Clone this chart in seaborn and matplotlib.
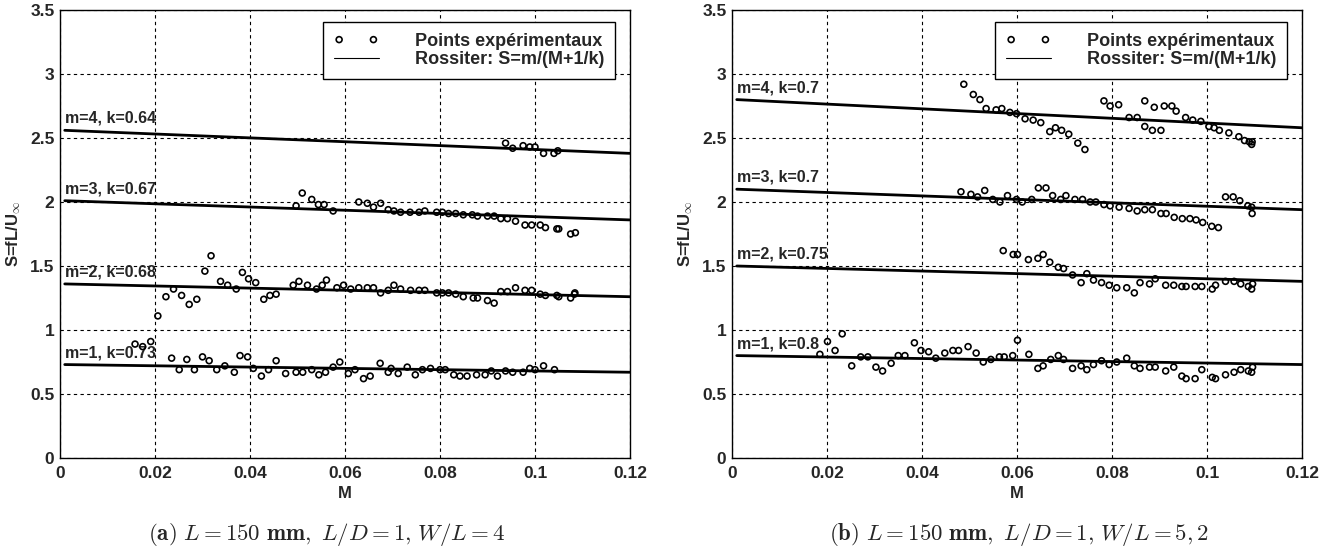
import matplotlib.pyplot as plt
import seaborn as sns

# ---- (a) L=150 mm, L/D=1, W/L=4 : points expérimentaux
a_m1_M = [0.0158, 0.0174, 0.0191, 0.0235, 0.0251, 0.0267, 0.0283, 0.0300, 0.0314, 0.0330,
          0.0347, 0.0367, 0.0379, 0.0395, 0.0407, 0.0424, 0.0439, 0.0455, 0.0475, 0.0497,
          0.0511, 0.0530, 0.0545, 0.0559, 0.0575, 0.0589, 0.0607, 0.0621, 0.0639, 0.0653,
          0.0674, 0.0691, 0.0697, 0.0712, 0.0731, 0.0748, 0.0763, 0.0780, 0.0800, 0.0811,
          0.0829, 0.0842, 0.0857, 0.0877, 0.0895, 0.0908, 0.0921, 0.0938, 0.0953, 0.0975,
          0.0989, 0.1000, 0.1018, 0.1041]
a_m1_S = [0.89, 0.87, 0.91, 0.78, 0.69, 0.77, 0.69, 0.79, 0.76, 0.69,
          0.72, 0.67, 0.80, 0.79, 0.70, 0.64, 0.69, 0.76, 0.66, 0.67,
          0.67, 0.69, 0.65, 0.67, 0.71, 0.75, 0.66, 0.69, 0.62, 0.64,
          0.74, 0.67, 0.70, 0.66, 0.71, 0.65, 0.69, 0.70, 0.69, 0.69,
          0.65, 0.64, 0.64, 0.65, 0.65, 0.68, 0.64, 0.68, 0.67, 0.67,
          0.70, 0.69, 0.72, 0.69]

a_m2_M = [0.0206, 0.0223, 0.0239, 0.0256, 0.0272, 0.0288, 0.0305, 0.0318, 0.0338, 0.0353,
          0.0371, 0.0384, 0.0397, 0.0412, 0.0429, 0.0442, 0.0455, 0.0491, 0.0503, 0.0521,
          0.0540, 0.0552, 0.0561, 0.0583, 0.0597, 0.0612, 0.0629, 0.0647, 0.0660, 0.0675,
          0.0691, 0.0703, 0.0717, 0.0738, 0.0756, 0.0768, 0.0793, 0.0805, 0.0818, 0.0833,
          0.0849, 0.0870, 0.0879, 0.0900, 0.0914, 0.0928, 0.0942, 0.0959, 0.0979, 0.0993,
          0.1011, 0.1022, 0.1046, 0.1050, 0.1075, 0.1083, 0.1084]
a_m2_S = [1.11, 1.26, 1.32, 1.27, 1.20, 1.24, 1.46, 1.58, 1.38, 1.35,
          1.32, 1.45, 1.40, 1.37, 1.24, 1.27, 1.28, 1.35, 1.38, 1.35,
          1.32, 1.35, 1.39, 1.33, 1.35, 1.32, 1.33, 1.33, 1.33, 1.29,
          1.31, 1.35, 1.32, 1.31, 1.31, 1.31, 1.29, 1.29, 1.29, 1.28,
          1.26, 1.25, 1.25, 1.23, 1.21, 1.30, 1.30, 1.33, 1.31, 1.31,
          1.28, 1.27, 1.27, 1.26, 1.25, 1.28, 1.29]

a_m3_M = [0.0497, 0.0510, 0.0530, 0.0544, 0.0556, 0.0575, 0.0629, 0.0647, 0.0660, 0.0675,
          0.0691, 0.0703, 0.0717, 0.0737, 0.0756, 0.0768, 0.0793, 0.0805, 0.0818, 0.0833,
          0.0849, 0.0868, 0.0879, 0.0900, 0.0914, 0.0928, 0.0942, 0.0959, 0.0979, 0.0993,
          0.1011, 0.1022, 0.1046, 0.1050, 0.1075, 0.1085]
a_m3_S = [1.97, 2.07, 2.02, 1.98, 1.98, 1.93, 2.00, 1.99, 1.96, 1.99,
          1.94, 1.93, 1.92, 1.92, 1.92, 1.93, 1.92, 1.92, 1.91, 1.91,
          1.90, 1.90, 1.89, 1.89, 1.89, 1.87, 1.87, 1.85, 1.82, 1.82,
          1.82, 1.80, 1.79, 1.79, 1.75, 1.76]

a_m4_M = [0.0938, 0.0953, 0.0975, 0.0989, 0.1000, 0.1018, 0.1040, 0.1048]
a_m4_S = [2.46, 2.42, 2.44, 2.43, 2.43, 2.38, 2.38, 2.40]

# ---- (b) L=150 mm, L/D=1, W/L=5,2 : points expérimentaux
b_m1_M = [0.0185, 0.0201, 0.0217, 0.0232, 0.0252, 0.0271, 0.0286, 0.0303, 0.0317, 0.0335,
          0.0350, 0.0364, 0.0384, 0.0398, 0.0414, 0.0429, 0.0448, 0.0465, 0.0477, 0.0497,
          0.0514, 0.0529, 0.0545, 0.0563, 0.0573, 0.0591, 0.0601, 0.0625, 0.0644, 0.0655,
          0.0671, 0.0687, 0.0698, 0.0717, 0.0735, 0.0747, 0.0761, 0.0778, 0.0794, 0.0810,
          0.0831, 0.0847, 0.0859, 0.0879, 0.0891, 0.0913, 0.0930, 0.0947, 0.0956, 0.0975,
          0.0989, 0.1011, 0.1018, 0.1039, 0.1057, 0.1071, 0.1087, 0.1094, 0.1096]
b_m1_S = [0.81, 0.91, 0.84, 0.97, 0.72, 0.79, 0.79, 0.71, 0.68, 0.74,
          0.80, 0.80, 0.90, 0.84, 0.83, 0.78, 0.82, 0.84, 0.84, 0.87,
          0.82, 0.75, 0.77, 0.79, 0.79, 0.80, 0.92, 0.81, 0.70, 0.72,
          0.77, 0.80, 0.77, 0.70, 0.72, 0.69, 0.73, 0.76, 0.73, 0.75,
          0.78, 0.72, 0.70, 0.71, 0.71, 0.68, 0.71, 0.64, 0.62, 0.62,
          0.69, 0.63, 0.62, 0.65, 0.67, 0.69, 0.68, 0.67, 0.71]

b_m2_M = [0.0571, 0.0592, 0.0601, 0.0624, 0.0644, 0.0655, 0.0669, 0.0687, 0.0698, 0.0717,
          0.0735, 0.0747, 0.0761, 0.0778, 0.0794, 0.0810, 0.0831, 0.0847, 0.0859, 0.0879,
          0.0891, 0.0913, 0.0930, 0.0947, 0.0956, 0.0975, 0.0989, 0.1011, 0.1018, 0.1039,
          0.1057, 0.1071, 0.1087, 0.1094, 0.1096]
b_m2_S = [1.62, 1.59, 1.59, 1.55, 1.56, 1.59, 1.53, 1.49, 1.48, 1.43,
          1.37, 1.44, 1.39, 1.37, 1.35, 1.33, 1.33, 1.29, 1.37, 1.36,
          1.40, 1.35, 1.35, 1.34, 1.34, 1.34, 1.34, 1.32, 1.35, 1.38,
          1.38, 1.36, 1.34, 1.32, 1.36]

b_m3_M = [0.0482, 0.0503, 0.0517, 0.0532, 0.0549, 0.0564, 0.0580, 0.0599, 0.0611, 0.0631,
          0.0645, 0.0661, 0.0675, 0.0692, 0.0703, 0.0722, 0.0738, 0.0754, 0.0766, 0.0783,
          0.0796, 0.0815, 0.0836, 0.0853, 0.0869, 0.0885, 0.0903, 0.0914, 0.0931, 0.0948,
          0.0964, 0.0977, 0.0991, 0.1010, 0.1024, 0.1039, 0.1055, 0.1069, 0.1086, 0.1094,
          0.1095]
b_m3_S = [2.08, 2.06, 2.04, 2.09, 2.02, 2.00, 2.05, 2.02, 2.00, 2.02,
          2.11, 2.11, 2.05, 2.02, 2.05, 2.02, 2.02, 2.00, 2.00, 1.98,
          1.97, 1.96, 1.95, 1.93, 1.94, 1.94, 1.91, 1.91, 1.88, 1.87,
          1.87, 1.86, 1.84, 1.81, 1.80, 2.04, 2.04, 2.01, 1.97, 1.96,
          1.91]

b_m4_M = [0.0488, 0.0508, 0.0522, 0.0535, 0.0556, 0.0568, 0.0585, 0.0599, 0.0617, 0.0634,
          0.0650, 0.0669, 0.0681, 0.0694, 0.0709, 0.0728, 0.0743, 0.0783, 0.0796, 0.0814,
          0.0836, 0.0853, 0.0869, 0.0885, 0.0903, 0.0869, 0.0889, 0.0910, 0.0926, 0.0935,
          0.0955, 0.0970, 0.0987, 0.1004, 0.1015, 0.1026, 0.1046, 0.1067, 0.1079, 0.1089,
          0.1094, 0.1095]
b_m4_S = [2.92, 2.84, 2.80, 2.73, 2.72, 2.73, 2.70, 2.69, 2.65, 2.64,
          2.62, 2.55, 2.58, 2.56, 2.53, 2.46, 2.41, 2.79, 2.75, 2.76,
          2.66, 2.66, 2.59, 2.56, 2.56, 2.79, 2.74, 2.75, 2.75, 2.71,
          2.66, 2.64, 2.63, 2.59, 2.58, 2.56, 2.54, 2.51, 2.48, 2.47,
          2.45, 2.47]

# ---- Rossiter lines (valeurs lues aux extremites)
rossiter_M = [0.001, 0.12]
a_rossiter_S = [[0.73, 0.67], [1.36, 1.26], [2.01, 1.86], [2.56, 2.38]]
b_rossiter_S = [[0.80, 0.73], [1.50, 1.38], [2.10, 1.94], [2.80, 2.58]]
a_labels = ['m=1, k=0.73', 'm=2, k=0.68', 'm=3, k=0.67', 'm=4, k=0.64']
b_labels = ['m=1, k=0.8', 'm=2, k=0.75', 'm=3, k=0.7', 'm=4, k=0.7']

x_ticks = [0, 0.02, 0.04, 0.06, 0.08, 0.1, 0.12]
x_ticklabels = ['0', '0.02', '0.04', '0.06', '0.08', '0.1', '0.12']
y_ticks = [0, 0.5, 1, 1.5, 2, 2.5, 3, 3.5]
y_ticklabels = ['0', '0.5', '1', '1.5', '2', '2.5', '3', '3.5']

a_caption = r'$\mathbf{(a)}\ L=150\ \mathbf{mm,}\ L/D=1\mathbf{,}\ W/L=4$'
b_caption = r'$\mathbf{(b)}\ L=150\ \mathbf{mm,}\ L/D=1\mathbf{,}\ W/L=5,2$'

sns.set_style('white')
plt.rcParams['font.family'] = ['Liberation Sans', 'DejaVu Sans']
plt.rcParams['font.weight'] = 'bold'
plt.rcParams['mathtext.fontset'] = 'cm'

fig = plt.figure(figsize=(13.37, 5.54), dpi=100)
ax_a = fig.add_axes([60 / 1337, 96 / 554, 570 / 1337, 448 / 554])
ax_b = fig.add_axes([732 / 1337, 96 / 554, 570 / 1337, 448 / 554])


def draw_panel(ax, points, lines_S, labels, caption, cap_x):
    for i, (S_line, lab) in enumerate(zip(lines_S, labels)):
        sns.lineplot(x=rossiter_M, y=S_line, color='black', linewidth=2.0, ax=ax,
                     label='Rossiter: S=m/(M+1/k)' if i == 0 else None, zorder=3)
        ax.text(rossiter_M[0], S_line[0] + 0.035, lab, fontsize=11.5, fontweight='bold',
                ha='left', va='bottom')
    for i, (M, S) in enumerate(points):
        sns.scatterplot(x=M, y=S, marker='o', s=18, facecolors='none', edgecolor='black',
                        linewidth=1.2, ax=ax, zorder=4,
                        label='Points expérimentaux' if i == 0 else None)

    ax.set_xlim(0, 0.12)
    ax.set_ylim(0, 3.5)
    ax.set_xticks(x_ticks)
    ax.set_xticklabels(x_ticklabels, fontweight='bold')
    ax.set_yticks(y_ticks)
    ax.set_yticklabels(y_ticklabels, fontweight='bold')
    ax.tick_params(axis='both', direction='in', length=4, width=0.8, labelsize=12.5)
    ax.tick_params(axis='x', pad=6)
    ax.tick_params(axis='y', pad=4)
    ax.grid(True, color='black', linestyle=(0, (3, 3)), linewidth=0.8)
    for sp in ax.spines.values():
        sp.set_color('black')
        sp.set_linewidth(1.0)
    ax.set_xlabel('M', fontsize=12, fontweight='bold', labelpad=3)
    ax.set_ylabel(r'S=fL/U$_{\infty}$', fontsize=12, fontweight='bold', labelpad=5)

    h, l = ax.get_legend_handles_labels()
    order = [l.index('Points expérimentaux'), l.index('Rossiter: S=m/(M+1/k)')]
    leg = ax.legend([h[j] for j in order], [l[j] for j in order], loc='upper right',
                    bbox_to_anchor=(0.974, 0.973), borderaxespad=0, scatterpoints=2,
                    scatteryoffsets=[0.5], fancybox=False, edgecolor='black', framealpha=1,
                    handlelength=2.5, handletextpad=2.0, labelspacing=0.05, borderpad=0.6,
                    prop={'weight': 'bold', 'size': 13})
    leg.get_frame().set_linewidth(1.0)
    for ln in leg.get_lines():
        ln.set_linewidth(0.8)

    fig.text(cap_x, 1 - 534 / 554, caption, ha='center', va='center', fontsize=16.5)


draw_panel(ax_a, [(a_m1_M, a_m1_S), (a_m2_M, a_m2_S), (a_m3_M, a_m3_S), (a_m4_M, a_m4_S)],
           a_rossiter_S, a_labels, a_caption, 327 / 1337)
draw_panel(ax_b, [(b_m1_M, b_m1_S), (b_m2_M, b_m2_S), (b_m3_M, b_m3_S), (b_m4_M, b_m4_S)],
           b_rossiter_S, b_labels, b_caption, 1019 / 1337)

fig.savefig('out.png', dpi=100)
